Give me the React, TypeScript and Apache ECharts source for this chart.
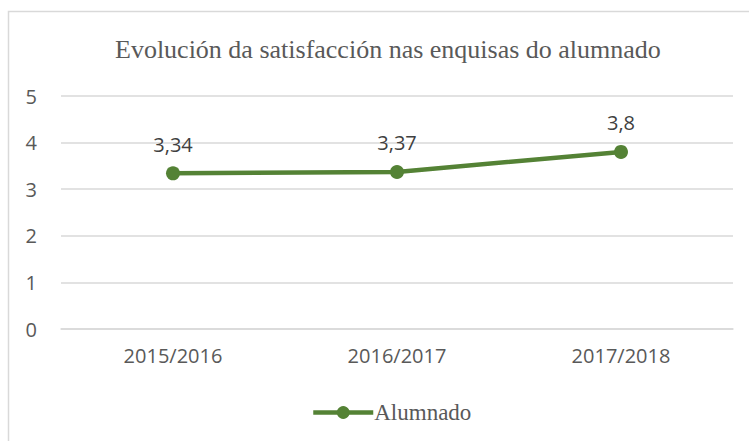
import React, { useEffect, useRef } from "react";
import * as echarts from "echarts";

const categories = ["2015/2016", "2016/2017", "2017/2018"];
const alumnado = [3.34, 3.37, 3.8];
const seriesName = "Alumnado";
const titleText = "Evolución da satisfacción nas enquisas do alumnado";

export default function App() {
  const ref = useRef<HTMLDivElement>(null);
  useEffect(() => {
    const chart = echarts.init(ref.current!, null, { renderer: "svg" });
    chart.setOption({
      animation: false,
      backgroundColor: "#ffffff",
      graphic: [
        {
          type: "rect",
          shape: { x: 8.5, y: 11.5, width: 760, height: 440 },
          style: { fill: "none", stroke: "#d9d9d9", lineWidth: 1.5 },
          silent: true,
        },
      ],
      title: {
        text: titleText,
        left: 110,
        top: 31,
        textStyle: {
          fontFamily: "Liberation Serif",
          fontSize: 26,
          fontWeight: "normal",
          color: "#595959",
        },
      },
      legend: {
        top: 396,
        left: 306,
        itemWidth: 60,
        itemHeight: 16,
        itemGap: 0,
        textStyle: {
          fontFamily: "Liberation Serif",
          fontSize: 23,
          color: "#595959",
          padding: [0, 0, 0, -4],
        },
        data: [
          {
            name: seriesName,
            lineStyle: { width: 4.5, color: "#548235" },
            itemStyle: { color: "#548235" },
          },
        ],
      },
      grid: { left: 61, right: 16, top: 96, bottom: 112, containLabel: false },
      xAxis: {
        type: "category",
        data: categories,
        axisLine: { show: true, lineStyle: { color: "#d9d9d9", width: 1.5 } },
        axisTick: { show: false },
        axisLabel: {
          fontFamily: "Open Sans",
          fontSize: 20,
          color: "#595959",
          margin: 16,
        },
      },
      yAxis: {
        type: "value",
        min: 0,
        max: 5,
        interval: 1,
        axisLine: { show: false },
        axisTick: { show: false },
        splitLine: { lineStyle: { color: "#d9d9d9", width: 1.5 } },
        axisLabel: {
          fontFamily: "Open Sans",
          fontSize: 20,
          color: "#595959",
          margin: 24,
        },
      },
      series: [
        {
          name: seriesName,
          type: "line",
          data: alumnado,
          symbol: "circle",
          symbolSize: 14,
          itemStyle: { color: "#548235" },
          lineStyle: { color: "#548235", width: 4.5 },
          label: {
            show: true,
            position: "top",
            distance: 12,
            fontFamily: "Open Sans",
            fontSize: 20,
            color: "#404040",
            formatter: (p: any) => String(p.value).replace(".", ","),
          },
        },
      ],
    });
    return () => chart.dispose();
  }, []);
  return (
    <div
      ref={ref}
      style={{ position: "fixed", left: 0, top: 0, width: 749, height: 441 }}
    />
  );
}
